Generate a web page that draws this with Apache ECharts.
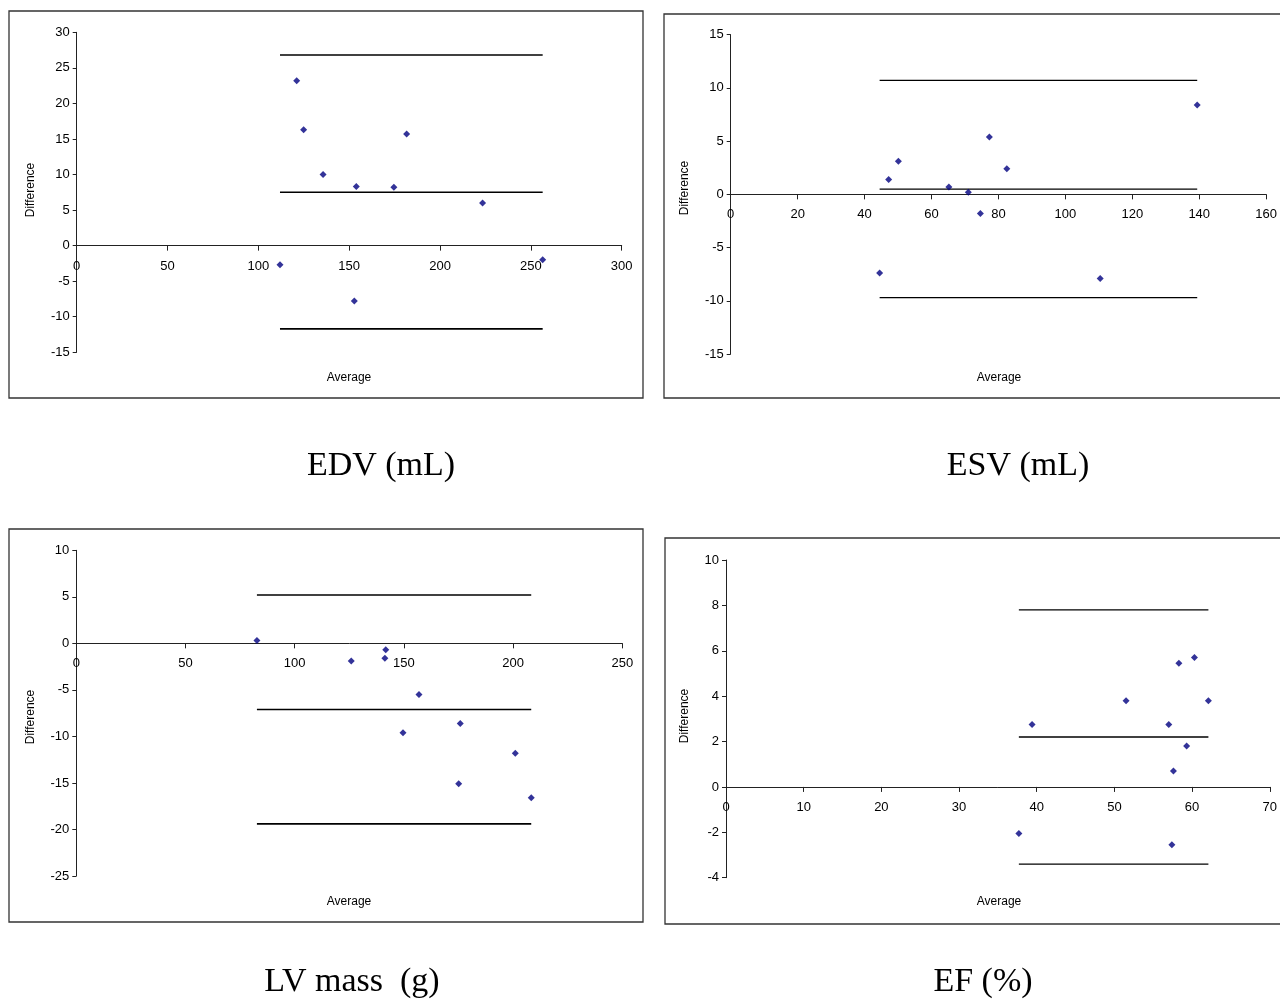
<!DOCTYPE html>
<html>
<head>
<meta charset="utf-8">
<script src="https://cdn.jsdelivr.net/npm/echarts@6/dist/echarts.min.js"></script>
<style>
html,body{margin:0;padding:0;background:#fff;}
#chart{width:1280px;height:1007px;}
</style>
</head>
<body>
<div id="chart"></div>
<script>
// ---- Data ----
const panelTitles = ['EDV (mL)', 'ESV (mL)', 'LV mass  (g)', 'EF (%)'];
const xAxisName = 'Average';
const yAxisName = 'Difference';

const edvAvg  = [121.1, 124.9, 135.6, 111.9, 153.9, 174.6, 181.6, 223.4, 256.5, 152.8];
const edvDiff = [23.2, 16.3, 10.0, -2.7, 8.3, 8.2, 15.7, 6.0, -2.0, -7.8];
const edvLines = [26.8, 7.5, -11.7];   // upper limit, mean, lower limit

const esvAvg  = [47.2, 50.1, 65.2, 71.0, 44.5, 74.6, 77.3, 82.5, 110.4, 139.4];
const esvDiff = [1.4, 3.1, 0.7, 0.2, -7.4, -1.8, 5.4, 2.4, -7.9, 8.4];
const esvLines = [10.7, 0.5, -9.7];

const lvAvg  = [82.7, 125.9, 141.7, 141.3, 156.9, 175.8, 149.6, 201.0, 175.1, 208.3];
const lvDiff = [0.3, -1.9, -0.7, -1.6, -5.5, -8.6, -9.6, -11.8, -15.1, -16.6];
const lvLines = [5.2, -7.1, -19.4];

const efAvg  = [39.4, 51.5, 57.0, 58.3, 60.3, 62.1, 59.3, 57.6, 37.7, 57.4];
const efDiff = [2.75, 3.8, 2.75, 5.45, 5.7, 3.8, 1.8, 0.7, -2.05, -2.55];
const efLines = [7.8, 2.2, -3.4];

const xRanges = [[0, 300, 50], [0, 160, 20], [0, 250, 50], [0, 70, 10]];
const yRanges = [[-15, 30, 5], [-15, 15, 5], [-25, 10, 5], [-4, 10, 2]];

// ---- Layout ----
const grids = [
  {left: 76.7, top: 32.3, width: 545, height: 320},
  {left: 730.7, top: 34.7, width: 537.6, height: 319.3},
  {left: 76.3, top: 550.3, width: 546, height: 325.7},
  {left: 726, top: 560, width: 546.3, height: 317.7}
];
const frames = [
  {x: 9, y: 11, w: 634, h: 387},
  {x: 664, y: 14, w: 640, h: 384},
  {x: 9, y: 529, w: 634, h: 393},
  {x: 665, y: 538, w: 640, h: 386}
];
const titlePos = [[381, 466], [1018, 466], [352, 982], [983, 982]];
const diffPos = [[31, 190], [685, 188], [31, 717], [685, 716]];
const avgPos = [[349, 378], [999, 378], [349, 902], [999, 902]];
const lineWidths = [1.6, 1.2, 1.6, 1.3];

const avgs = [edvAvg, esvAvg, lvAvg, efAvg];
const diffs = [edvDiff, esvDiff, lvDiff, efDiff];
const lines = [edvLines, esvLines, lvLines, efLines];

const sans = '"Liberation Sans", Arial, sans-serif';
const serif = '"Liberation Serif", "Times New Roman", serif';

const xAxes = [], yAxes = [], series = [], graphics = [];
for (let i = 0; i < 4; i++) {
  // the x axis sits on y = 0: shift the bottom axis up by the pixel distance to zero
  const zeroOffset = grids[i].height * (0 - yRanges[i][0]) / (yRanges[i][1] - yRanges[i][0]);
  xAxes.push({
    type: 'value', gridIndex: i, position: 'bottom', offset: -zeroOffset,
    min: xRanges[i][0], max: xRanges[i][1], interval: xRanges[i][2],
    axisLine: {onZero: false, lineStyle: {color: '#222', width: 1}},
    axisTick: {show: true, inside: false, length: 5, lineStyle: {color: '#222'}},
    axisLabel: {color: '#000', fontSize: 13, fontFamily: sans, margin: 14, showMinLabel: true, showMaxLabel: true},
    splitLine: {show: false}
  });
  yAxes.push({
    type: 'value', gridIndex: i,
    min: yRanges[i][0], max: yRanges[i][1], interval: yRanges[i][2],
    axisLine: {show: true, onZero: false, lineStyle: {color: '#222', width: 1}},
    axisTick: {show: true, inside: false, length: 4, lineStyle: {color: '#222'}},
    axisLabel: {color: '#000', fontSize: 13, fontFamily: sans, margin: 7},
    splitLine: {show: false}
  });
  const xmin = Math.min.apply(null, avgs[i]);
  const xmax = Math.max.apply(null, avgs[i]);
  lines[i].forEach(function (v) {
    series.push({
      type: 'line', xAxisIndex: i, yAxisIndex: i,
      data: [[xmin, v], [xmax, v]],
      symbol: 'none', silent: true,
      lineStyle: {color: '#000', width: lineWidths[i]},
      z: 2
    });
  });
  series.push({
    type: 'scatter', xAxisIndex: i, yAxisIndex: i,
    data: avgs[i].map(function (a, k) { return [a, diffs[i][k]]; }),
    symbol: 'diamond', symbolSize: 7,
    itemStyle: {color: '#000080'},
    z: 3
  });
  const f = frames[i];
  graphics.push({
    type: 'rect', shape: {x: f.x, y: f.y, width: f.w, height: f.h},
    style: {fill: 'none', stroke: '#333', lineWidth: 1.3}, z: 0, silent: true
  });
  graphics.push({
    type: 'text', x: titlePos[i][0], y: titlePos[i][1],
    style: {text: panelTitles[i], font: '34px ' + serif, fill: '#000', textAlign: 'center', textVerticalAlign: 'middle'}
  });
  graphics.push({
    type: 'text', x: diffPos[i][0], y: diffPos[i][1], rotation: Math.PI / 2,
    style: {text: yAxisName, font: '12px ' + sans, fill: '#000', textAlign: 'center', textVerticalAlign: 'middle'}
  });
  graphics.push({
    type: 'text', x: avgPos[i][0], y: avgPos[i][1],
    style: {text: xAxisName, font: '12px ' + sans, fill: '#000', textAlign: 'center', textVerticalAlign: 'middle'}
  });
}

const chart = echarts.init(document.getElementById('chart'), null, {renderer: 'canvas'});
chart.setOption({
  animation: false,
  backgroundColor: '#fff',
  grid: grids.map(function (g) { return Object.assign({containLabel: false}, g); }),
  xAxis: xAxes,
  yAxis: yAxes,
  series: series,
  graphic: graphics
});
</script>
</body>
</html>
